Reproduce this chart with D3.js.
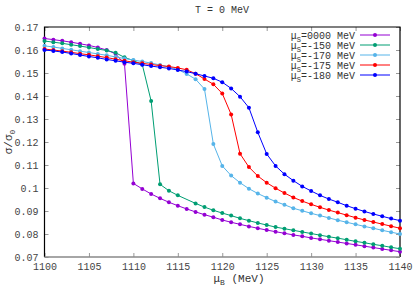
<!DOCTYPE html>
<html>
<head>
<meta charset="utf-8">
<script src="https://cdn.jsdelivr.net/npm/d3@7"></script>
<style>
  body { margin: 0; background: #fff; }
  svg text { font-family: "Liberation Mono", "DejaVu Sans Mono", monospace; }
</style>
</head>
<body>
<svg id="chart" width="415" height="291"></svg>
<script>
// chemical potential grid (MeV)
const muB = d3.range(1100, 1141);

// sigma / sigma_0 for each mu_S
const s0000 = [0.1650, 0.1645, 0.1640, 0.1634, 0.1627, 0.1620, 0.1611, 0.1600, 0.1583, 0.1540,
  0.1020, 0.0996, 0.0974, 0.0955, 0.0938, 0.0923, 0.0909, 0.0896, 0.0884, 0.0873,
  0.0861, 0.0851, 0.0842, 0.0833, 0.0825, 0.0817, 0.0810, 0.0803, 0.0796, 0.0790,
  0.0783, 0.0777, 0.0771, 0.0765, 0.0759, 0.0753, 0.0747, 0.0741, 0.0735, 0.0729, 0.0723];
const s150 = [0.1639, 0.1634, 0.1629, 0.1623, 0.1617, 0.1611, 0.1604, 0.1598, 0.1588, 0.1568,
  0.1554, 0.1537, 0.1378, 0.1016, 0.0988, 0.0968, null, 0.0933, 0.0917, 0.0903,
  0.0891, 0.0880, 0.0868, 0.0858, 0.0848, 0.0839, 0.0830, 0.0823, 0.0816, 0.0809,
  0.0802, 0.0795, 0.0788, 0.0782, 0.0775, 0.0768, 0.0762, 0.0755, 0.0749, 0.0742, 0.0736];
const s170 = [0.1618, 0.1613, 0.1607, 0.1601, 0.1595, 0.1589, 0.1583, 0.1577, 0.1570, 0.1563,
  0.1556, 0.1550, 0.1543, 0.1535, 0.1527, 0.1515, 0.1496, 0.1473, 0.1430, 0.1191,
  0.1096, 0.1054, 0.1023, 0.0997, 0.0976, 0.0958, 0.0941, 0.0927, 0.0912, 0.0901,
  0.0890, 0.0880, 0.0870, 0.0860, 0.0851, 0.0842, 0.0833, 0.0825, 0.0816, 0.0808, 0.0800];
const s175 = [0.1604, 0.1600, 0.1595, 0.1590, 0.1584, 0.1579, 0.1573, 0.1567, 0.1560, 0.1553,
  0.1547, 0.1542, 0.1537, 0.1532, 0.1528, 0.1522, 0.1514, 0.1497, 0.1474, 0.1451,
  0.1411, 0.1320, 0.1149, 0.1091, 0.1052, 0.1023, 0.0999, 0.0978, 0.0959, 0.0943,
  0.0929, 0.0916, 0.0904, 0.0893, 0.0882, 0.0871, 0.0861, 0.0852, 0.0843, 0.0834, 0.0825];
const s180 = [0.1600, 0.1596, 0.1591, 0.1585, 0.1578, 0.1572, 0.1566, 0.1559, 0.1553, 0.1547,
  0.1542, 0.1536, 0.1530, 0.1525, 0.1520, 0.1513, 0.1506, 0.1497, 0.1487, 0.1477,
  0.1460, 0.1433, 0.1397, 0.1349, 0.1242, 0.1148, 0.1096, 0.1060, 0.1032, 0.1007,
  0.0987, 0.0968, 0.0952, 0.0938, 0.0923, 0.0910, 0.0898, 0.0887, 0.0877, 0.0867, 0.0858];

const labels = ["0000", "-150", "-170", "-175", "-180"];
const colors = ["#9400d3", "#009e73", "#56b4e9", "#ff0000", "#0000ff"];
const xTicks = d3.range(1100, 1141, 5);
const yTicks = d3.range(7, 18).map(d => d / 100);

const series = [s0000, s150, s170, s175, s180];

const svg = d3.select("#chart");
const pL = 44.5, pR = 400, pT = 27, pB = 257;

const x = d3.scaleLinear().domain([1100, 1140]).range([pL, pR]);
const y = d3.scaleLinear().domain([0.07, 0.17]).range([pB, pT]);

// ticks (inward, mirrored)
function tickAxis(g, axis) {
  g.call(axis);
  g.select(".domain").remove();
  g.selectAll(".tick line").attr("stroke", "#999");
  g.selectAll(".tick text").attr("fill", "#444").attr("font-size", 10);
}
svg.append("g").attr("transform", `translate(0,${pB})`)
  .call(g => tickAxis(g, d3.axisBottom(x).tickValues(xTicks).tickSize(-4).tickPadding(6).tickFormat(d3.format("d"))));
svg.append("g").attr("transform", `translate(0,${pT})`)
  .call(g => tickAxis(g, d3.axisTop(x).tickValues(xTicks).tickSize(-4).tickFormat("")));
svg.append("g").attr("transform", `translate(${pL},0)`)
  .call(g => tickAxis(g, d3.axisLeft(y).tickValues(yTicks).tickSize(-4).tickPadding(6).tickFormat(d3.format("~g"))));
svg.append("g").attr("transform", `translate(${pR},0)`)
  .call(g => tickAxis(g, d3.axisRight(y).tickValues(yTicks).tickSize(-4).tickFormat("")));

// border
svg.append("path")
  .attr("d", `M${pL},${pB}V${pT}H${pR}V${pB}`)
  .attr("fill", "none").attr("stroke", "#000").attr("stroke-width", 1.2);
svg.append("line")
  .attr("x1", pL).attr("x2", pR).attr("y1", pB).attr("y2", pB)
  .attr("stroke", "#888").attr("stroke-width", 1.6);

// curves
const line = d3.line().x(d => x(d[0])).y(d => y(d[1]));
series.forEach((vals, i) => {
  const pts = muB.map((m, j) => [m, vals[j]]).filter(d => d[1] != null);
  svg.append("path").datum(pts)
    .attr("d", line).attr("fill", "none")
    .attr("stroke", colors[i]).attr("stroke-width", 1);
  svg.append("g").selectAll("circle").data(pts).join("circle")
    .attr("cx", d => x(d[0])).attr("cy", d => y(d[1]))
    .attr("r", 2).attr("fill", colors[i]);
});

// legend
labels.forEach((lab, i) => {
  const ly = 35 + i * 10;
  const t = svg.append("text").attr("x", 355).attr("y", ly + 3.5)
    .attr("text-anchor", "end").attr("font-size", 10).attr("fill", "#333");
  t.append("tspan").text("μ");
  t.append("tspan").attr("dy", 3).attr("font-size", 7).text("S");
  t.append("tspan").attr("dy", -3).text("=" + lab + " MeV");
  svg.append("line").attr("x1", 360).attr("x2", 390).attr("y1", ly).attr("y2", ly)
    .attr("stroke", colors[i]).attr("stroke-width", 1);
  svg.append("circle").attr("cx", 375).attr("cy", ly).attr("r", 2).attr("fill", colors[i]);
});

// title and axis labels
svg.append("text").attr("x", 222).attr("y", 13).attr("text-anchor", "middle")
  .attr("font-size", 10).attr("fill", "#333").text("T = 0 MeV");

const xl = svg.append("text").attr("x", 239).attr("y", 282).attr("text-anchor", "middle")
  .attr("font-size", 11).attr("fill", "#333");
xl.append("tspan").text("μ");
xl.append("tspan").attr("dy", 3).attr("font-size", 8).text("B");
xl.append("tspan").attr("dy", -3).text(" (MeV)");

const yl = svg.append("text").attr("transform", "translate(12,142) rotate(-90)")
  .attr("text-anchor", "middle").attr("font-size", 11).attr("fill", "#333");
yl.append("tspan").text("σ/σ");
yl.append("tspan").attr("dy", 3).attr("font-size", 8).text("0");
</script>
</body>
</html>
